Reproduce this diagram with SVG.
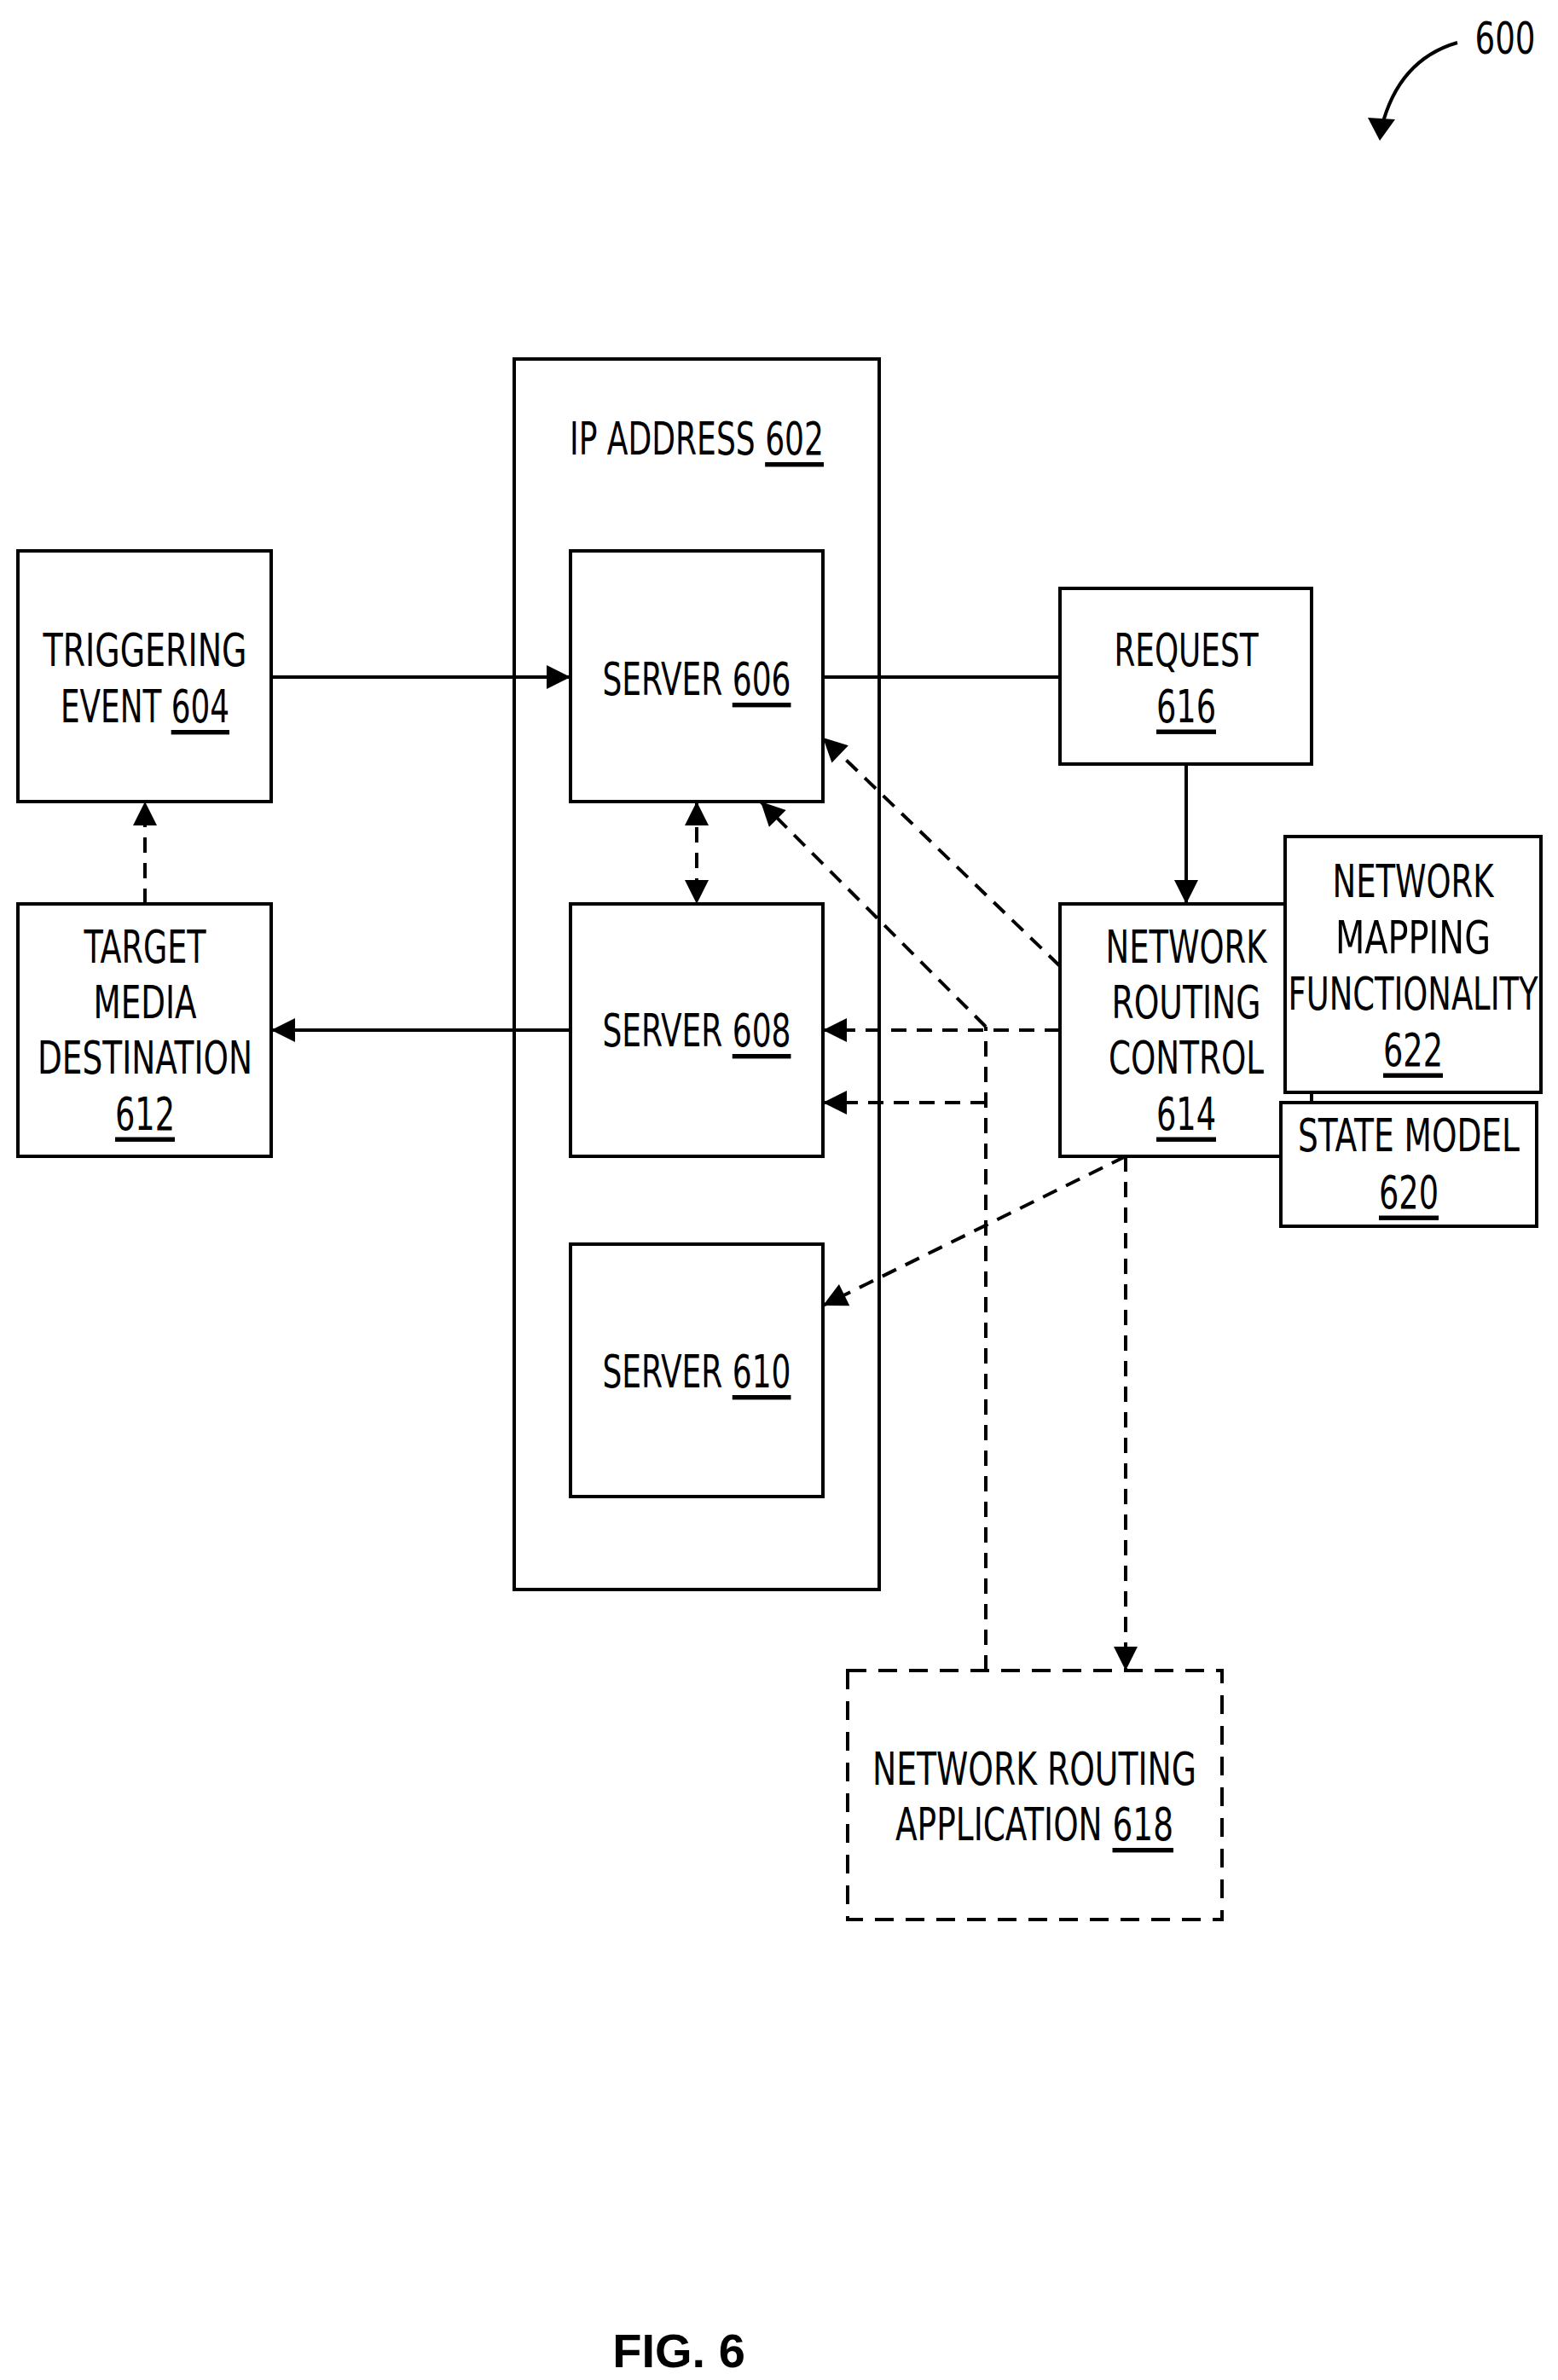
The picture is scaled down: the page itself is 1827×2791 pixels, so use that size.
<svg xmlns="http://www.w3.org/2000/svg" width="1827" height="2791" viewBox="0 0 1827 2791">
<style>
rect{fill:#fff;stroke:#000;stroke-width:4}
text{font-family:"DejaVu Sans Condensed","Liberation Sans",sans-serif;font-size:54px;text-anchor:middle;dominant-baseline:central;fill:#000}
.u{text-decoration:underline}
.s{stroke:#000;stroke-width:4;fill:none}
.d{stroke:#000;stroke-width:4;fill:none;stroke-dasharray:18 12}
</style>
<defs><marker id="a" viewBox="0 0 10 10" refX="10" refY="5" markerWidth="7" markerHeight="7" orient="auto-start-reverse" markerUnits="userSpaceOnUse" style="overflow:visible"><path d="M0,0L10,5L0,10z" transform="scale(4) translate(-7.5,-3.75)"/></marker></defs>
<g id="ip"><rect x="603" y="421" width="428" height="1443"/><text x="817" y="514" textLength="298" lengthAdjust="spacingAndGlyphs">IP ADDRESS <tspan class="u">602</tspan></text></g>
<g id="s606"><rect x="669" y="646" width="296" height="294"/><text x="817" y="796" textLength="221" lengthAdjust="spacingAndGlyphs">SERVER <tspan class="u">606</tspan></text></g>
<g id="s608"><rect x="669" y="1060" width="296" height="296"/><text x="817" y="1208" textLength="221" lengthAdjust="spacingAndGlyphs">SERVER <tspan class="u">608</tspan></text></g>
<g id="s610"><rect x="669" y="1459" width="296" height="296"/><text x="817" y="1608" textLength="221" lengthAdjust="spacingAndGlyphs">SERVER <tspan class="u">610</tspan></text></g>
<g id="trig"><rect x="21" y="646" width="297" height="294"/><text x="170" y="762" textLength="239" lengthAdjust="spacingAndGlyphs">TRIGGERING</text><text x="170" y="828" textLength="198" lengthAdjust="spacingAndGlyphs">EVENT <tspan class="u">604</tspan></text></g>
<g id="tgt"><rect x="21" y="1060" width="297" height="296"/><text x="170" y="1110" textLength="143" lengthAdjust="spacingAndGlyphs">TARGET</text><text x="170" y="1175" textLength="121" lengthAdjust="spacingAndGlyphs">MEDIA</text><text x="170" y="1240" textLength="252" lengthAdjust="spacingAndGlyphs">DESTINATION</text><text x="170" y="1306" class="u" textLength="70" lengthAdjust="spacingAndGlyphs">612</text></g>
<g id="req"><rect x="1243" y="690" width="295" height="206"/><text x="1391" y="762" textLength="169" lengthAdjust="spacingAndGlyphs">REQUEST</text><text x="1391" y="828" class="u" textLength="70" lengthAdjust="spacingAndGlyphs">616</text></g>
<g id="nrc"><rect x="1243" y="1060" width="295" height="296"/><text x="1391" y="1110" textLength="189" lengthAdjust="spacingAndGlyphs">NETWORK</text><text x="1391" y="1175" textLength="175" lengthAdjust="spacingAndGlyphs">ROUTING</text><text x="1391" y="1240" textLength="182" lengthAdjust="spacingAndGlyphs">CONTROL</text><text x="1391" y="1306" class="u" textLength="70" lengthAdjust="spacingAndGlyphs">614</text></g>
<g id="nmf"><rect x="1507" y="981" width="300" height="300"/><text x="1657" y="1033" textLength="189" lengthAdjust="spacingAndGlyphs">NETWORK</text><text x="1657" y="1099" textLength="182" lengthAdjust="spacingAndGlyphs">MAPPING</text><text x="1657" y="1165" textLength="293" lengthAdjust="spacingAndGlyphs">FUNCTIONALITY</text><text x="1657" y="1231" class="u" textLength="70" lengthAdjust="spacingAndGlyphs">622</text></g>
<g id="sm"><rect x="1502" y="1293" width="300" height="145"/><text x="1652" y="1331" textLength="260" lengthAdjust="spacingAndGlyphs">STATE MODEL</text><text x="1652" y="1398" class="u" textLength="70" lengthAdjust="spacingAndGlyphs">620</text></g>
<g id="nra"><rect x="994" y="1959" width="439" height="292" style="stroke-dasharray:22 14"/><text x="1213" y="2074" textLength="380" lengthAdjust="spacingAndGlyphs">NETWORK ROUTING</text><text x="1213" y="2139" textLength="326" lengthAdjust="spacingAndGlyphs">APPLICATION <tspan class="u">618</tspan></text></g>
<g id="connectors">
<path class="s" d="M318,794H669" marker-end="url(#a)"/>
<path class="s" d="M965,794H1243"/>
<path class="s" d="M1391,896V1060" marker-end="url(#a)"/>
<path class="s" d="M669,1208H318" marker-end="url(#a)"/>
<path class="d" d="M170,1060V940" marker-end="url(#a)"/>
<path class="d" d="M817,940V1060" marker-start="url(#a)" marker-end="url(#a)"/>
<path class="d" d="M1243,1133L965,865" marker-end="url(#a)"/>
<path class="d" d="M1156,1204L892,940" marker-end="url(#a)"/>
<path class="d" d="M1243,1208H965" marker-end="url(#a)"/>
<path class="d" d="M1156,1959V1204"/>
<path class="d" d="M1156,1293H965" marker-end="url(#a)"/>
<path class="d" d="M1320,1356L965,1531" marker-end="url(#a)"/>
<path class="d" d="M1320,1356V1959" marker-end="url(#a)"/>
</g>
<g id="ref600"><text x="1765" y="45" style="font-size:52px" textLength="71" lengthAdjust="spacingAndGlyphs">600</text><path class="s" d="M1709,50Q1640,70 1620,150"/><path d="M1604,138L1618,165L1636,140z"/></g>
<text x="796" y="2756" style="font-family:'Liberation Sans',sans-serif;font-weight:bold;font-size:56px">FIG. 6</text>
</svg>
